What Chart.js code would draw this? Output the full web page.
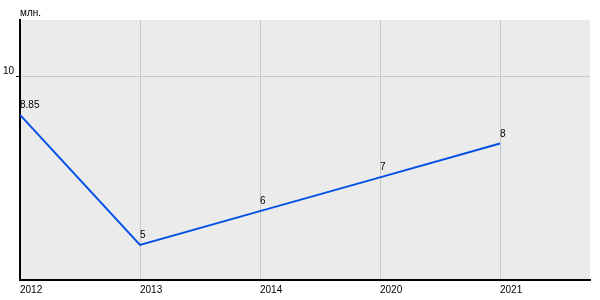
<!DOCTYPE html>
<html>
<head>
<meta charset="utf-8">
<script src="https://cdn.jsdelivr.net/npm/chart.js@4"></script>
<style>
  html, body { margin: 0; padding: 0; background: #ffffff; }
</style>
</head>
<body>
<canvas id="chart" width="600" height="300"></canvas>
<script>
// data
const years = ['2012', '2013', '2014', '2020', '2021'];
const values = [8.85, 5, 6, 7, 8];
const valueLabels = ['8.85', '5', '6', '7', '8'];
const yTicks = [10];
const unitLabel = 'млн.';

const FONT = '"Liberation Sans", Arial, sans-serif';

// grey plot background + unit caption
const backdrop = {
    id: 'backdrop',
    beforeDraw(chart) {
        const { ctx, chartArea: a } = chart;
        ctx.save();
        ctx.fillStyle = '#ebebeb';
        ctx.fillRect(a.left, a.top, a.right - a.left, a.bottom - a.top);
        ctx.fillStyle = '#000';
        ctx.font = '10px ' + FONT;
        ctx.textAlign = 'left';
        ctx.textBaseline = 'alphabetic';
        ctx.fillText(unitLabel, a.left, a.top - 4);
        ctx.restore();
    }
};

// value labels just above each point, left aligned
const pointLabels = {
    id: 'pointLabels',
    afterDatasetsDraw(chart) {
        const { ctx } = chart;
        const meta = chart.getDatasetMeta(0);
        ctx.save();
        ctx.fillStyle = '#000';
        ctx.font = '10px ' + FONT;
        ctx.textAlign = 'left';
        ctx.textBaseline = 'alphabetic';
        meta.data.forEach((pt, i) => {
            ctx.fillText(valueLabels[i], pt.x, pt.y - 7);
        });
        ctx.restore();
    }
};

new Chart(document.getElementById('chart'), {
    type: 'line',
    data: {
        datasets: [{
            data: values.map((v, i) => ({ x: i, y: v })),
            borderColor: '#0050e6',
            borderWidth: 2,
            pointRadius: 0,
            tension: 0,
            fill: false
        }]
    },
    options: {
        responsive: false,
        animation: false,
        devicePixelRatio: 1,
        layout: { padding: { top: 20, right: 10, bottom: 0, left: 0 } },
        plugins: { legend: { display: false }, tooltip: { enabled: false } },
        scales: {
            x: {
                type: 'linear',
                min: 0,
                max: 4.75,
                afterBuildTicks: s => { s.ticks = years.map((_, i) => ({ value: i })); },
                afterFit: s => { s.height = 20; },
                grid: { color: '#c8c8c8', lineWidth: 1, drawTicks: false },
                border: { color: '#000', width: 2 },
                ticks: {
                    align: 'start',
                    maxRotation: 0,
                    autoSkip: false,
                    padding: 4,
                    color: '#000',
                    font: { family: FONT, size: 10 },
                    callback: v => years[v]
                }
            },
            y: {
                min: 3.96,
                max: 11.66,
                afterBuildTicks: s => { s.ticks = yTicks.map(v => ({ value: v })); },
                afterFit: s => { s.width = 20; },
                grid: { color: '#c8c8c8', lineWidth: 1, tickLength: 4, tickColor: '#000' },
                border: { color: '#000', width: 2 },
                ticks: {
                    padding: 2,
                    labelOffset: -5,
                    color: '#000',
                    font: { family: FONT, size: 10 },
                    callback: v => String(v)
                }
            }
        }
    },
    plugins: [backdrop, pointLabels]
});
</script>
</body>
</html>
